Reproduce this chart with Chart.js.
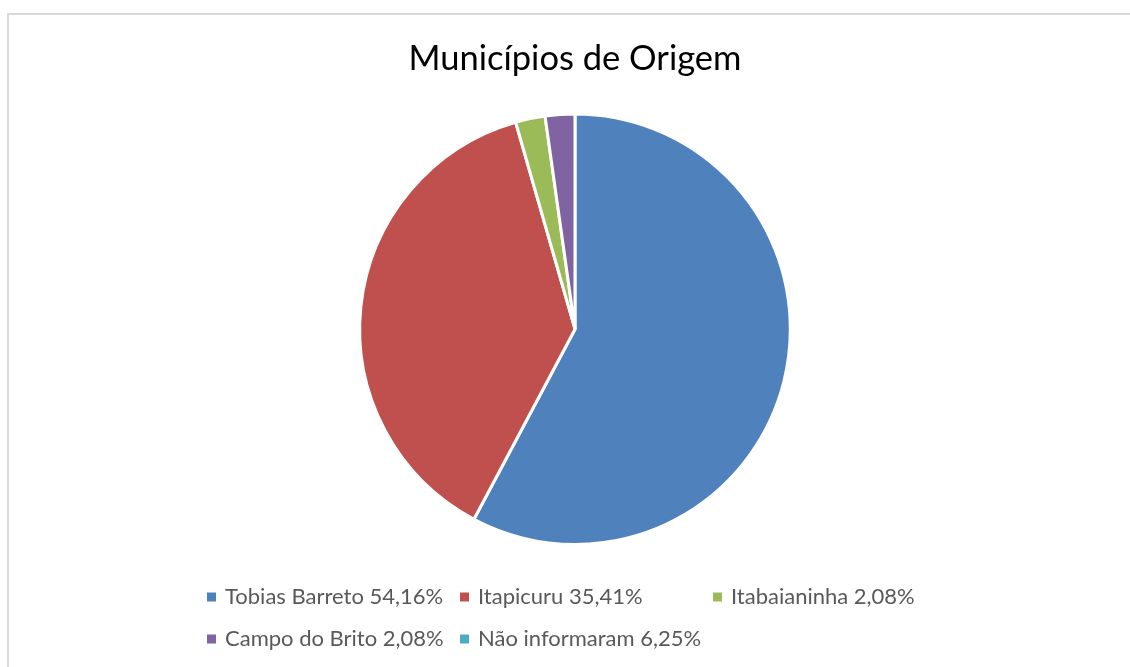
<!DOCTYPE html>
<html>
<head>
<meta charset="utf-8">
<script src="https://cdn.jsdelivr.net/npm/chart.js@4"></script>
<style>
    html, body { margin: 0; padding: 0; background: #fff; overflow: hidden; }
    #wrap { position: relative; width: 1130px; height: 667px; }
    #frame {
        position: absolute; left: 7px; top: 13px; width: 1140px; height: 700px;
        border-left: 2px solid #d9d9d9; border-top: 2px solid #d9d9d9;
        box-sizing: border-box;
    }
    #myChart { position: absolute; left: 0; top: 0; }
</style>
</head>
<body>
<div id="wrap">
    <div id="frame"></div>
    <canvas id="myChart" width="1130" height="667"></canvas>
</div>
<script>
const titleText = 'Municípios de Origem';
const categories = ['Tobias Barreto', 'Itapicuru', 'Itabaianinha', 'Campo do Brito', 'Não informaram'];
const percentLabels = ['54,16%', '35,41%', '2,08%', '2,08%', '6,25%'];
const values = [26, 17, 1, 1, 0];
const colors = ['#4f81bd', '#c0504d', '#9bbb59', '#8064a2', '#4bacc6'];

// Excel-style legend: fixed-width columns, wrapped rows
const gridLegend = {
    id: 'gridLegend',
    afterDraw(chart, args, opts) {
        const ctx = chart.ctx;
        ctx.save();
        ctx.font = opts.size + 'px ' + opts.family;
        ctx.textBaseline = 'middle';
        chart.data.labels.forEach(function (label, i) {
            const col = i % opts.perRow;
            const row = Math.floor(i / opts.perRow);
            const x = opts.left + col * opts.colWidth;
            const y = opts.top + row * opts.rowHeight;
            ctx.fillStyle = chart.data.datasets[0].backgroundColor[i];
            ctx.fillRect(x, y - opts.box / 2, opts.box, opts.box);
            ctx.fillStyle = opts.color;
            ctx.fillText(label + ' ' + percentLabels[i], x + opts.box + 9, y);
        });
        ctx.restore();
    }
};

const ctx = document.getElementById('myChart').getContext('2d');

new Chart(ctx, {
    type: 'pie',
    data: {
        labels: categories,
        datasets: [{
            data: values,
            backgroundColor: colors,
            borderColor: '#ffffff',
            borderWidth: 3,
            hoverOffset: 0,
        }],
    },
    options: {
        responsive: false,
        animation: false,
        layout: {
            padding: { top: 0, bottom: 121, left: 20, right: 0 },
        },
        plugins: {
            title: {
                display: true,
                text: titleText,
                color: '#000000',
                font: { family: 'Lato', size: 34.5, weight: 'normal' },
                padding: { top: 38, bottom: 33 },
            },
            legend: { display: false },
            tooltip: { enabled: false },
            gridLegend: {
                left: 207,
                top: 597,
                colWidth: 253,
                rowHeight: 42,
                perRow: 3,
                box: 9,
                size: 22,
                family: 'Lato',
                color: '#595959',
            },
        },
    },
    plugins: [gridLegend],
});
</script>
</body>
</html>
